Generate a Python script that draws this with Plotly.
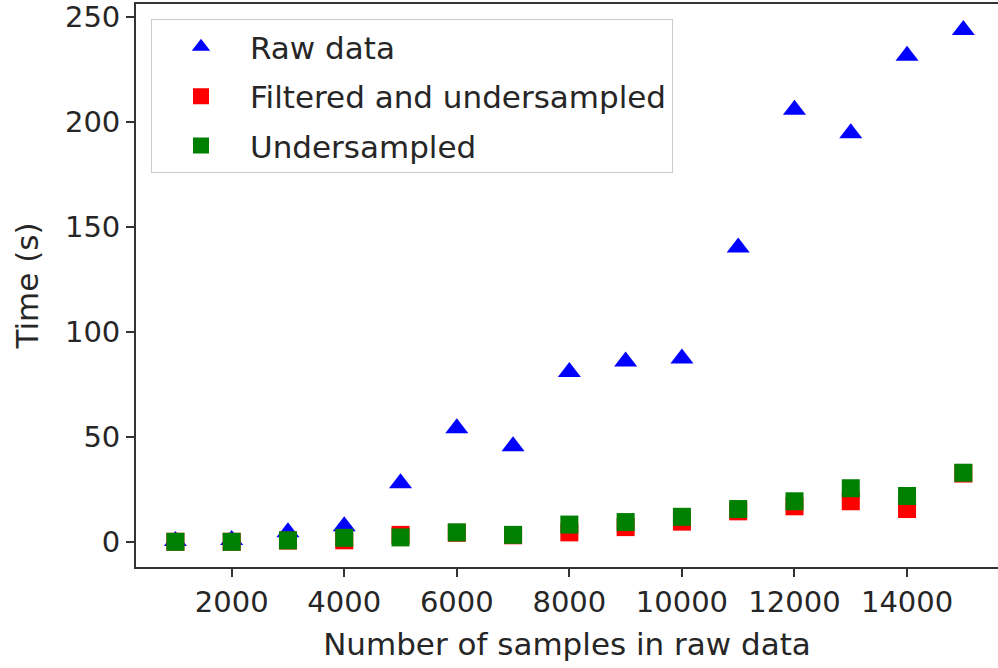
import plotly.graph_objects as go

# Benchmark: processing time vs. number of raw samples
samples = [1000, 2000, 3000, 4000, 5000, 6000, 7000, 8000,
           9000, 10000, 11000, 12000, 13000, 14000, 15000]
raw_time = [0.5, 1.0, 4.6, 7.5, 28.0, 54.2, 45.6, 81.0,
            86.0, 87.4, 140.3, 205.8, 194.7, 231.5, 243.8]
filtered_time = [0.1, 0.1, 0.7, 0.8, 3.4, 4.4, 3.2, 4.6,
                 7.1, 9.7, 14.6, 17.0, 19.4, 15.7, 32.6]
undersampled_time = [0.1, 0.1, 0.8, 2.0, 2.2, 4.6, 3.4, 8.3,
                     9.5, 12.0, 15.7, 19.4, 25.6, 21.9, 33.0]

FONT = "DejaVu Sans"
TICK_FS = 29
LABEL_FS = 31
INK = "#262626"
AXIS = "#333333"

fig = go.Figure()
fig.add_trace(go.Scatter(
    x=samples, y=raw_time, mode="markers", name="Raw data",
    legendgroup="a",
    marker=dict(symbol="triangle-up", size=20, color="#0000ff",
                line=dict(width=0)),
))
fig.add_trace(go.Scatter(
    x=samples, y=filtered_time, mode="markers",
    name="Filtered and undersampled", legendgroup="b",
    marker=dict(symbol="square", size=18, color="#ff0000",
                line=dict(width=0)),
))
fig.add_trace(go.Scatter(
    x=samples, y=undersampled_time, mode="markers", name="Undersampled",
    legendgroup="c",
    marker=dict(symbol="square", size=18, color="#008000",
                line=dict(width=0)),
))

axis_common = dict(
    showgrid=False, zeroline=False, showline=True,
    linecolor=AXIS, linewidth=1.8,
    ticks="outside", ticklen=8, tickwidth=1.8, tickcolor=AXIS,
    tickfont=dict(family=FONT, size=TICK_FS, color=INK),
)

fig.update_layout(
    width=998, height=668,
    margin=dict(l=136, r=0, t=4, b=101),
    paper_bgcolor="white", plot_bgcolor="white",
    font=dict(family=FONT, size=LABEL_FS, color=INK),
    xaxis=dict(
        range=[300, 15616], tick0=0, dtick=2000, tickformat="d",
        mirror=True,
        title=dict(text="Number of samples in raw data",
                   font=dict(family=FONT, size=LABEL_FS, color=INK),
                   standoff=16),
        **axis_common,
    ),
    yaxis=dict(
        range=[-11.9, 256.2], tick0=0, dtick=50, tickformat="d",
        title=dict(text="Time (s)",
                   font=dict(family=FONT, size=LABEL_FS, color=INK),
                   standoff=17),
        **axis_common,
    ),
    legend=dict(
        x=0.0174, y=0.973, xanchor="left", yanchor="top",
        bgcolor="rgba(255,255,255,0.8)", bordercolor="#cccccc",
        borderwidth=1, font=dict(family=FONT, size=LABEL_FS, color=INK),
        traceorder="grouped", tracegroupgap=6, itemwidth=88,
    ),
    showlegend=True,
)

fig.write_html("out.html")
